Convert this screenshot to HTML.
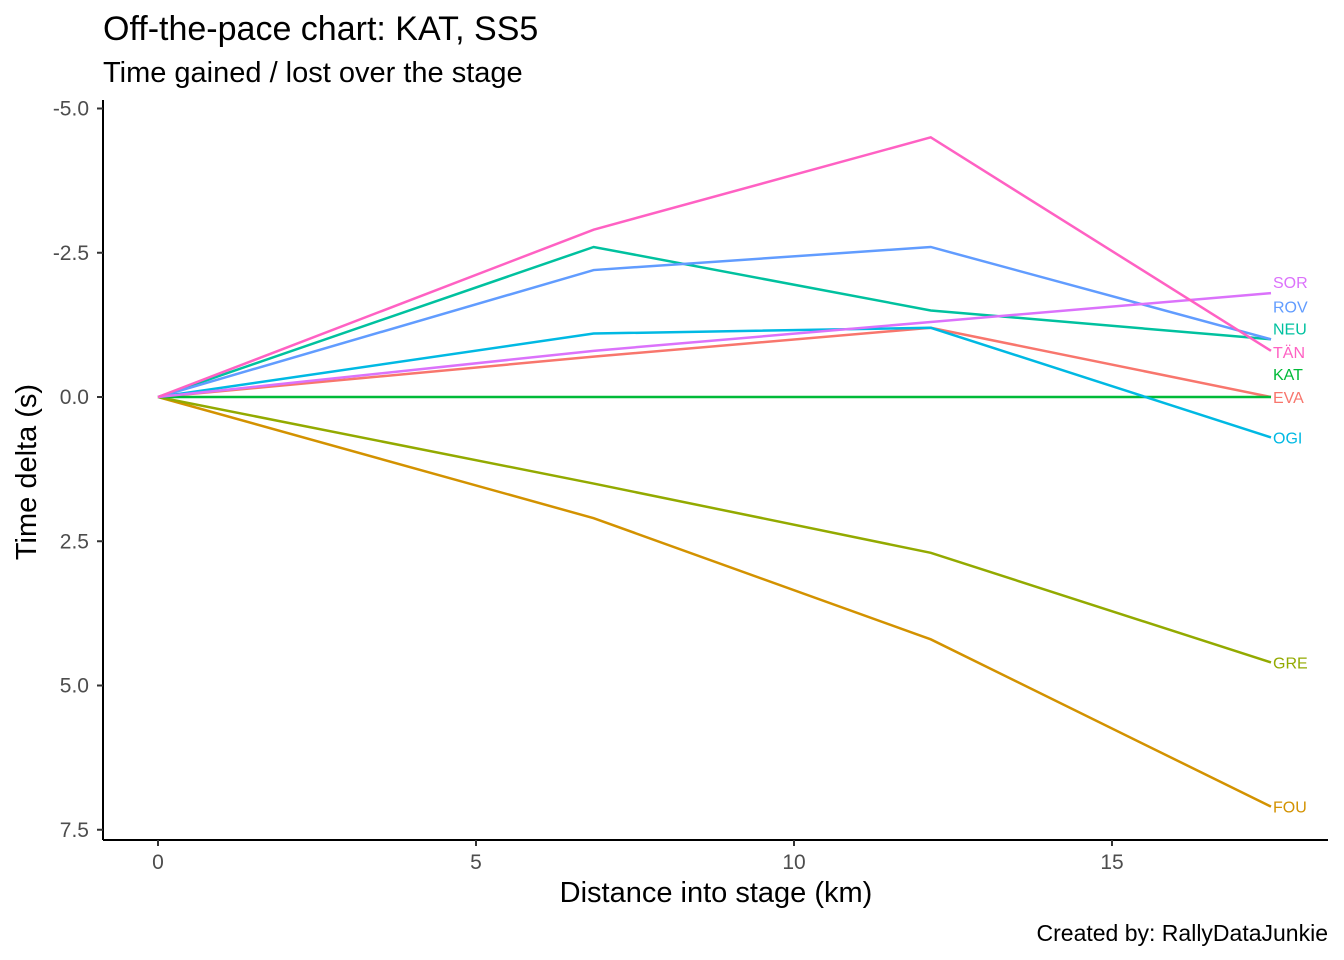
<!DOCTYPE html>
<html><head><meta charset="utf-8">
<style>
html,body{margin:0;padding:0;background:#fff;}
svg{display:block;font-family:"Liberation Sans",Arial,sans-serif;}
</style></head>
<body>
<svg id="chart" width="1344" height="960">
  <text x="103" y="40" font-size="34" fill="#000">Off-the-pace chart: KAT, SS5</text>
  <text x="103" y="82" font-size="29" fill="#000">Time gained / lost over the stage</text>
  <g id="plot"></g>
  <line x1="103" y1="100" x2="103" y2="840" stroke="#000" stroke-width="2"/>
  <line x1="103" y1="840" x2="1328" y2="840" stroke="#000" stroke-width="2"/>
  <g id="yticks"></g>
  <g id="xticks"></g>
  <text x="716" y="902" font-size="29" text-anchor="middle" fill="#000">Distance into stage (km)</text>
  <text transform="translate(36,472) rotate(-90)" font-size="29" text-anchor="middle" fill="#000">Time delta (s)</text>
  <text x="1328" y="941" font-size="23" text-anchor="end" fill="#000">Created by: RallyDataJunkie</text>
</svg>
<script>
const distances = [0, 6.85, 12.15, 17.5];
const drivers = ["EVA","FOU","GRE","KAT","NEU","OGI","ROV","SOR","TÄN"];
const colors = ["#F8766D","#D39200","#93AA00","#00BA38","#00C19F","#00B9E3","#619CFF","#DB72FB","#FF61C3"];
const seriesEVA = [0, -0.7, -1.2, 0];
const seriesFOU = [0, 2.1, 4.2, 7.1];
const seriesGRE = [0, 1.5, 2.7, 4.6];
const seriesKAT = [0, 0, 0, 0];
const seriesNEU = [0, -2.6, -1.5, -1.0];
const seriesOGI = [0, -1.1, -1.2, 0.7];
const seriesROV = [0, -2.2, -2.6, -1.0];
const seriesSOR = [0, -0.8, -1.3, -1.8];
const seriesTAN = [0, -2.9, -4.5, -0.8];
const labelNudge = [0, 0, 0, -23, -11, 0, -33, -11, 1];
const xTicks = [0, 5, 10, 15];
const yTicks = [-5.0, -2.5, 0.0, 2.5, 5.0, 7.5];
const yTickLabels = ["-5.0","-2.5","0.0","2.5","5.0","7.5"];

const series = [seriesEVA,seriesFOU,seriesGRE,seriesKAT,seriesNEU,seriesOGI,seriesROV,seriesSOR,seriesTAN];
const xs = v => 158 + v * 63.6;
const ys = v => 397 + v * 57.7;
const NS = "http://www.w3.org/2000/svg";
const plot = document.getElementById('plot');
const yt = document.getElementById('yticks');
const xt = document.getElementById('xticks');

yTicks.forEach((t,i)=>{
  const l=document.createElementNS(NS,'line');
  l.setAttribute('x1',97);l.setAttribute('x2',103);l.setAttribute('y1',ys(t));l.setAttribute('y2',ys(t));
  l.setAttribute('stroke','#333');l.setAttribute('stroke-width',2);
  
  
  yt.appendChild(l);
  const tx=document.createElementNS(NS,'text');
  tx.setAttribute('x',89);tx.setAttribute('y',ys(t)+7);tx.setAttribute('text-anchor','end');
  tx.setAttribute('font-size',21);tx.setAttribute('fill','#4d4d4d');
  tx.textContent=yTickLabels[i];
  
  
  yt.appendChild(tx);
});
xTicks.forEach(t=>{
  const l=document.createElementNS(NS,'line');
  l.setAttribute('x1',xs(t));l.setAttribute('x2',xs(t));l.setAttribute('y1',840);l.setAttribute('y2',846);
  l.setAttribute('stroke','#333');l.setAttribute('stroke-width',2);
  
  
  xt.appendChild(l);
  const tx=document.createElementNS(NS,'text');
  tx.setAttribute('x',xs(t));tx.setAttribute('y',869);tx.setAttribute('text-anchor','middle');
  tx.setAttribute('font-size',21);tx.setAttribute('fill','#4d4d4d');
  tx.textContent=String(t);
  
  
  xt.appendChild(tx);
});
drivers.forEach((d,i)=>{
  const vals=series[i];
  const p=document.createElementNS(NS,'polyline');
  p.setAttribute('points',vals.map((v,j)=>xs(distances[j])+','+ys(v)).join(' '));
  p.setAttribute('fill','none');p.setAttribute('stroke',colors[i]);p.setAttribute('stroke-width',2.5);
  
  
  plot.appendChild(p);
});
drivers.forEach((d,i)=>{
  const vals=series[i];
  const last=vals[vals.length-1];
  const tx=document.createElementNS(NS,'text');
  tx.setAttribute('x',xs(distances[distances.length-1])+2);
  tx.setAttribute('y',ys(last)+labelNudge[i]+6);
  tx.setAttribute('font-size',16);tx.setAttribute('fill',colors[i]);
  tx.textContent=d;
  
  
  plot.appendChild(tx);
});
</script>
</body></html>
